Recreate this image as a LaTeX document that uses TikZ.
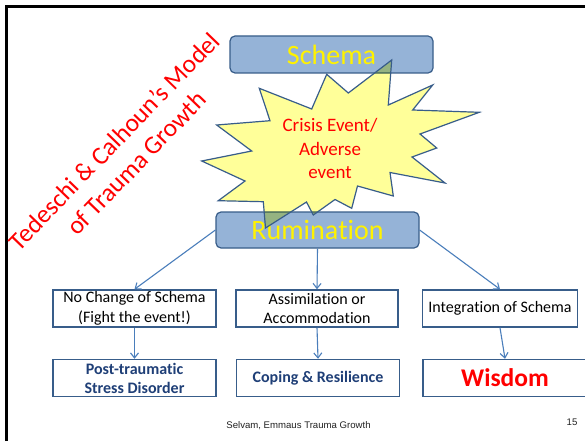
\documentclass[tikz,border=0pt]{standalone}
\usepackage{fontspec}
\setmainfont{Carlito}[Ligatures=NoCommon]
\newfontfamily\arialf{Liberation Sans}
\usetikzlibrary{arrows.meta}
\definecolor{boxfill}{HTML}{95B3D7}
\definecolor{boxline}{HTML}{385D8A}
\definecolor{arrowc}{HTML}{4A7EBB}
\definecolor{staryellow}{HTML}{FFFF99}
\definecolor{navy}{HTML}{1F3F77}
\definecolor{footgray}{HTML}{222222}
\newcommand\nolig{\kern0pt\relax}
\begin{document}
\begin{tikzpicture}[x=1pt,y=-1pt,
  topbox/.style={draw=boxline, fill=boxfill, line width=1.2pt, rounded corners=5pt,
    inner sep=0pt, text=yellow, font=\fontsize{28}{34}\selectfont},
  lowbox/.style={draw=boxline, fill=white, line width=1.5pt, inner sep=0pt,
    align=center, font=\fontsize{16}{19.5}\selectfont},
  boldbox/.style={lowbox, text=navy, font=\bfseries\fontsize{16}{19}\selectfont},
  conn/.style={draw=arrowc, line width=1.1pt, -{Straight Barb[length=5pt,width=8pt]}},
  starline/.style={draw=boxline, line width=1.2pt, line join=miter},
]
\useasboundingbox (0,0) rectangle (585,441);
\fill[white] (0,0) rectangle (585,441);
\clip (0,0) rectangle (585,441);
\draw[black, line width=3pt] (6,441) -- (6,6.5) -- (585,6.5);

% top boxes
\node[topbox, minimum width=203pt, minimum height=37pt] (schema) at (331.5,54.5) {Schema};
\node[topbox, minimum width=203pt, minimum height=36pt] (rum) at (317.5,230) {Rumina\nolig tion};

% starburst
\def\starpath{(326.7,74.3) -- (348.3,93) -- (391.7,60) -- (388.3,105) -- (432.7,85) -- (412.7,110)
  -- (479.3,112.3) -- (420,134) -- (436.7,148) -- (412,157) -- (445,183) -- (390,172.5)
  -- (393.3,196) -- (357.5,186) -- (351.7,208.3) -- (335,199.5) -- (313.3,215) -- (306.5,202)
  -- (265.5,228) -- (263.3,201.7) -- (218.3,200.7) -- (245,181) -- (201.7,161) -- (251.7,151)
  -- (216.7,125) -- (270,120.7) -- (259.3,88.3) -- (311.7,109) -- cycle}
\begin{scope}[blend mode=multiply]
  \fill[staryellow] \starpath;
\end{scope}
\draw[starline] \starpath;
\node[text=red, align=center, font=\fontsize{19}{23.5}\selectfont] (crisis) at (330,148.5)
  {Crisis Event/\\Adverse\\event};

% title
\node[rotate=46, text=red, align=center, font=\fontsize{25.5}{31}\selectfont] (title) at (125,152)
  {Tedeschi \& Calhoun’s Model\\of Trauma Growth};

% lower boxes
\node[lowbox, minimum width=163pt, minimum height=37pt] (b1) at (134.5,308.5)
  {No Change of Schema\\(Fight the event!)};
\node[lowbox, minimum width=162pt, minimum height=37pt] (b2) at (317,308.5)
  {Assimila\nolig tion or\\Accommoda\nolig tion};
\node[lowbox, minimum width=155pt, minimum height=37pt] (b3) at (500,308.5)
  {Integra\nolig tion of Schema};
\node[boldbox, minimum width=163pt, minimum height=37pt] (b4) at (134.5,378)
  {Post-traumatic\\Stress Disorder};
\node[boldbox, minimum width=163pt, minimum height=37pt] (b5) at (318,378)
  {Coping \& Resilience};
\node[lowbox, text=red, font=\bfseries\fontsize{25.5}{30}\selectfont,
  minimum width=164pt, minimum height=37pt] (b6) at (505,378) {Wisdom};

% connectors
\draw[conn] (rum.west) -- (b1.north);
\draw[conn] (rum.south) -- (b2.north);
\draw[conn] (rum.east) -- (b3.north);
\draw[conn] (b1.south) -- (b4.north);
\draw[conn] (b2.south) -- (b5.north);
\draw[conn] (b3.south) -- (b6.north);

% footer
\node[text=footgray, font=\arialf\fontsize{9.6}{11}\selectfont] (foot) at (298.5,425.5)
  {Selvam, Emmaus Trauma Growth};
\node[text=footgray, font=\arialf\fontsize{9.6}{11}\selectfont] (num) at (572,422.5) {15};
\end{tikzpicture}
\end{document}
